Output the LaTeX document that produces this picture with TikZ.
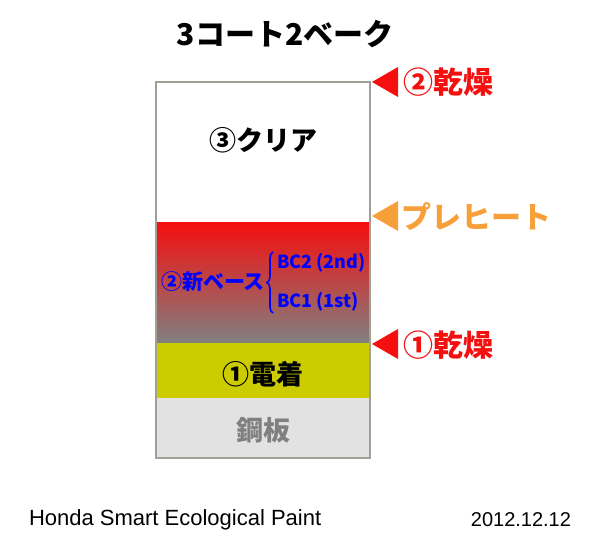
\documentclass[tikz,border=0pt]{standalone}
\usepackage{fontspec}
\setmainfont{Liberation Sans}
\newfontfamily\jp{Noto Sans CJK JP}
\usetikzlibrary{positioning, decorations.pathreplacing}

\definecolor{dryred}{HTML}{F50F0F}
\definecolor{preorange}{HTML}{F7A03A}
\definecolor{edyellow}{HTML}{CCCC00}
\definecolor{steelgray}{HTML}{E2E2E2}
\definecolor{basegray}{HTML}{808080}
\definecolor{boxline}{HTML}{A0A096}

\begin{document}
\begin{tikzpicture}[x=1pt, y=-1pt, node distance=0pt, thick]
    \tikzstyle{every node}=[inner sep=0pt, outer sep=0pt]
    \tikzstyle{layer}=[rectangle, minimum width=214pt, draw=none]
    \tikzstyle{jplabel}=[font=\jp\bfseries\fontsize{27}{27}\selectfont]
    \tikzstyle{marklabel}=[font=\jp\bfseries\fontsize{30}{30}\selectfont, anchor=west]
    \tikzstyle{bclabel}=[font=\jp\bfseries\fontsize{18}{18}\selectfont, text=blue, anchor=west]

    \useasboundingbox (0,0) rectangle (600,534);

    % layers, top to bottom
    \node[layer, minimum height=141pt, fill=white] (clear) at (263,152.5) {};
    \node[layer, minimum height=120pt, top color=dryred, bottom color=basegray,
          below=of clear] (base) {};
    \node[layer, minimum height=55pt, fill=edyellow, below=of base] (ed) {};
    \node[layer, minimum height=60pt, fill=steelgray, below=of ed] (steel) {};
    \draw[boxline, line width=1.2pt] (clear.north west) rectangle (steel.south east);

    \node[jplabel] (clearlabel) at (263,140) {③クリア};
    \node[jplabel] (edlabel) at (263,374) {①電着};
    \node[jplabel, text=gray] (steellabel) at (263,430) {鋼板};

    \node[font=\jp\bfseries\fontsize{21}{21}\selectfont, text=blue] (baselabel) at (213,282) {②新ベース};
    \node[bclabel] (bc2) at (277,263) {BC2 (2nd)};
    \node[bclabel] (bc1) at (277,302) {BC1 (1st)};
    \coordinate (bracetop) at (273,252);
    \coordinate (bracebot) at (273,313);
    \draw[blue, line width=1.6pt, decorate, decoration={brace, amplitude=6pt}]
        (bracebot) -- (bracetop);

    % title
    \node[font=\jp\bfseries\fontsize{30}{30}\selectfont] (title) at (285,34) {3コート2ベーク};

    % drying / preheat marks
    \coordinate (dry2) at (372,82);
    \coordinate (preheat) at (372,216);
    \coordinate (dry1) at (372,344);
    \fill[dryred] (dry2) -- ++(26,-15) -- ++(0,30) -- cycle;
    \fill[preorange] (preheat) -- ++(26,-15) -- ++(0,30) -- cycle;
    \fill[dryred] (dry1) -- ++(26,-15) -- ++(0,30) -- cycle;
    \node[marklabel, text=dryred] (dry2label) at (403,82) {②乾燥};
    \node[marklabel, text=preorange] (preheatlabel) at (401,217) {プレヒート};
    \node[marklabel, text=dryred] (dry1label) at (403,345) {①乾燥};

    % footer
    \node[font=\fontsize{22}{22}\selectfont, anchor=west] (brand) at (29,520) {Honda Smart Ecological Paint};
    \node[font=\fontsize{20}{20}\selectfont, anchor=east] (date) at (571,520) {2012.12.12};
\end{tikzpicture}
\end{document}
